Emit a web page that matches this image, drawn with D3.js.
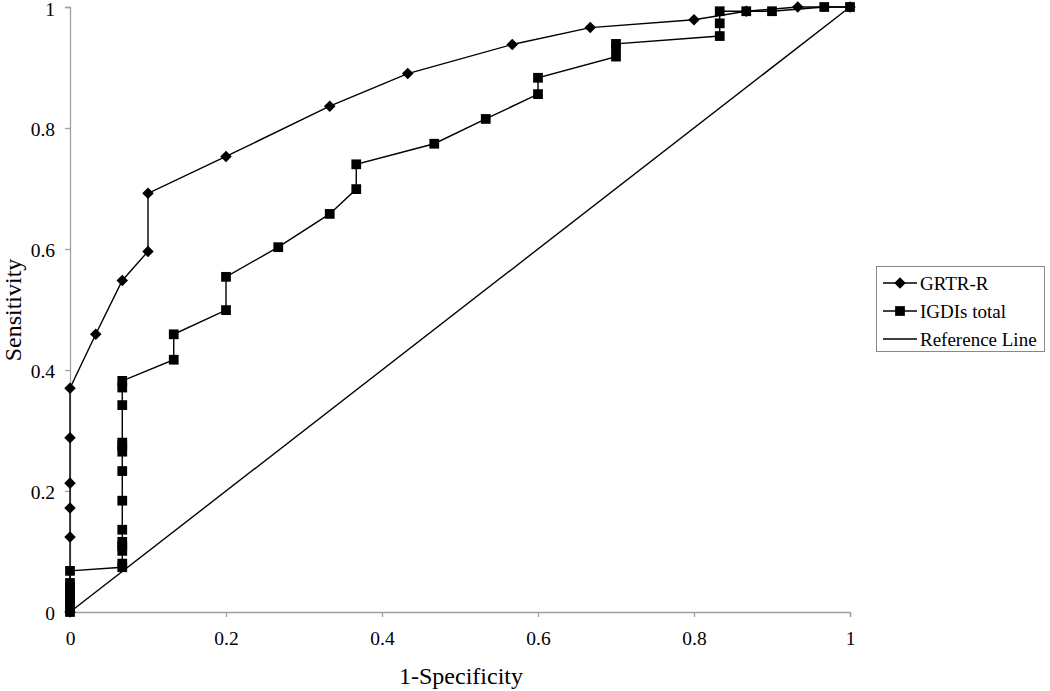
<!DOCTYPE html>
<html><head><meta charset="utf-8">
<script src="https://cdn.jsdelivr.net/npm/d3@7"></script>
<style>body{margin:0;background:#fff;} svg text{font-family:"Liberation Serif","Times New Roman",Times,"DejaVu Serif",serif !important;}</style>
</head><body><svg id="c" width="1050" height="691"></svg>
<script>
const grtrX = [0, 0, 0, 0, 0, 0, 0.033, 0.067, 0.1, 0.1, 0.2, 0.333, 0.433, 0.567, 0.667, 0.8, 0.867, 0.933, 1];
const grtrY = [0, 0.124, 0.172, 0.213, 0.288, 0.370, 0.459, 0.548, 0.596, 0.692, 0.753, 0.836, 0.890, 0.938, 0.966, 0.979, 0.993, 1, 1];
const igdiX = [0, 0, 0, 0, 0, 0, 0, 0, 0, 0.067, 0.067, 0.067, 0.067, 0.067, 0.067, 0.067, 0.067, 0.067, 0.067, 0.067, 0.067, 0.067, 0.067, 0.133, 0.133, 0.2, 0.2, 0.267, 0.333, 0.367, 0.367, 0.467, 0.533, 0.6, 0.6, 0.7, 0.7, 0.7, 0.833, 0.833, 0.833, 0.867, 0.9, 0.967, 1];
const igdiY = [0, 0.007, 0.014, 0.021, 0.027, 0.034, 0.041, 0.048, 0.068, 0.074, 0.080, 0.101, 0.109, 0.116, 0.136, 0.184, 0.233, 0.265, 0.275, 0.280, 0.342, 0.371, 0.382, 0.417, 0.459, 0.499, 0.554, 0.603, 0.658, 0.699, 0.740, 0.774, 0.815, 0.856, 0.883, 0.918, 0.932, 0.939, 0.952, 0.973, 0.993, 0.993, 0.993, 1, 1];
const refX = [0, 1];
const refY = [0, 1];
const tickVals = [0, 0.2, 0.4, 0.6, 0.8, 1];
const tickLabels = ["0", "0.2", "0.4", "0.6", "0.8", "1"];
const seriesNames = ["GRTR-R", "IGDIs total", "Reference Line"];

const FONT = '"Liberation Serif","Times New Roman",Times,"DejaVu Serif",serif';
const svg = d3.select("#c");
const x = d3.scaleLinear().domain([0, 1]).range([70, 850]);
const y = d3.scaleLinear().domain([0, 1]).range([612, 7]);
const axisColor = "#a0a0a0";

const xa = svg.append("g").attr("transform", "translate(0,612)")
  .call(d3.axisBottom(x).tickValues(tickVals).tickFormat((d, i) => tickLabels[i]).tickSize(5).tickPadding(14));
const ya = svg.append("g").attr("transform", "translate(70,0)")
  .call(d3.axisLeft(y).tickValues(tickVals).tickFormat((d, i) => tickLabels[i]).tickSize(5).tickPadding(10));
[xa, ya].forEach(a => {
  a.attr("font-family", FONT);
  a.select(".domain").attr("stroke", axisColor).attr("stroke-width", 1.3);
  a.selectAll(".tick line").attr("stroke", axisColor).attr("stroke-width", 1.3);
  a.selectAll(".tick text").attr("font-size", 19.5).attr("fill", "#000").attr("font-family", FONT);
});
xa.selectAll(".tick text").attr("dy", "0.71em");
ya.selectAll(".tick text").attr("dy", (d, i) => i === tickVals.length - 1 ? "0.45em" : "0.36em");

svg.append("text").attr("x", 461).attr("y", 684).attr("text-anchor", "middle")
  .attr("font-family", FONT).attr("font-size", 24).text("1-Specificity");
svg.append("text").attr("transform", "translate(21,310) rotate(-90)").attr("text-anchor", "middle")
  .attr("font-family", FONT).attr("font-size", 24).text("Sensitivity");

const line = d3.line().x(d => x(d[0])).y(d => y(d[1]));
const ref = refX.map((v, i) => [v, refY[i]]);
const g1 = grtrX.map((v, i) => [v, grtrY[i]]);
const g2 = igdiX.map((v, i) => [v, igdiY[i]]);

svg.append("path").attr("d", line(ref)).attr("fill", "none").attr("stroke", "#000").attr("stroke-width", 1.4);
svg.append("path").attr("d", line(g1)).attr("fill", "none").attr("stroke", "#000").attr("stroke-width", 1.4);
svg.append("path").attr("d", line(g2)).attr("fill", "none").attr("stroke", "#000").attr("stroke-width", 1.4);

const diamond = d3.symbol().type(d3.symbolDiamond2).size(85);
const square = d3.symbol().type(d3.symbolSquare).size(95);
svg.append("g").selectAll("path").data(g1).join("path")
  .attr("d", diamond).attr("transform", d => `translate(${x(d[0])},${y(d[1])})`).attr("fill", "#000");
svg.append("g").selectAll("path").data(g2).join("path")
  .attr("d", square).attr("transform", d => `translate(${x(d[0])},${y(d[1])})`).attr("fill", "#000");

// legend
const lg = svg.append("g");
lg.append("rect").attr("x", 876.5).attr("y", 266.5).attr("width", 168).attr("height", 85)
  .attr("fill", "#fff").attr("stroke", "#888").attr("stroke-width", 1);
const rowsY = [283, 311, 339];
seriesNames.forEach((n, i) => {
  lg.append("line").attr("x1", 883).attr("x2", 917).attr("y1", rowsY[i]).attr("y2", rowsY[i])
    .attr("stroke", "#000").attr("stroke-width", 1.4);
  if (i === 0) lg.append("path").attr("d", diamond).attr("transform", `translate(900,${rowsY[i]})`);
  if (i === 1) lg.append("path").attr("d", square).attr("transform", `translate(900,${rowsY[i]})`);
  lg.append("text").attr("x", 920).attr("y", rowsY[i]).attr("dy", "0.35em")
    .attr("font-family", FONT).attr("font-size", 19).text(n);
});
</script></body></html>
